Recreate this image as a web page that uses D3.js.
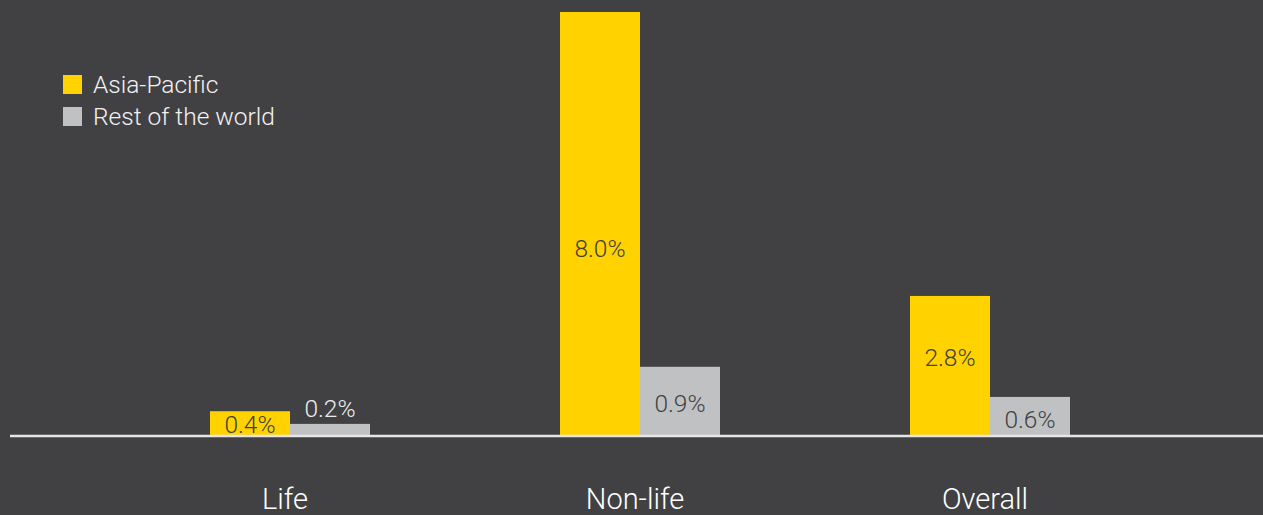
<!DOCTYPE html>
<html><head><meta charset="utf-8">
<script src="https://cdn.jsdelivr.net/npm/d3@7"></script>
<style>
html,body{margin:0;padding:0;background:#414143;}
svg{display:block;}
text{font-family:Roboto, "Open Sans", sans-serif;font-weight:300;}
</style></head>
<body>
<svg id="c" width="1263" height="515"></svg>
<script>
const categories = ["Life", "Non-life", "Overall"];
const seriesNames = ["Asia-Pacific", "Rest of the world"];
// bar heights as drawn in the picture (in % units of the drawn scale)
const asiaPacific = [0.45, 8.0, 2.63];
const restOfWorld = [0.21, 1.29, 0.72];
// printed labels
const asiaLabels = ["0.4%", "8.0%", "2.8%"];
const restLabels = ["0.2%", "0.9%", "0.6%"];
// level (in value units) where each label is centred
const asiaLabelAt = [0.2, 3.53, 1.47];
const restLabelAt = [0.5, 0.6, 0.3];

const W = 1263, H = 515;
const yellow = "#FFD200", grey = "#C0C1C3", bg = "#414143";
const svg = d3.select("#c");
svg.append("rect").attr("width", W).attr("height", H).attr("fill", bg);

const x = d3.scaleBand().domain(categories).range([115, 1165]).padding(0);
const y = d3.scaleLinear().domain([0, 8]).range([435, 12]);
const barW = 80;

const rows = categories.map((c, i) => ({
  c,
  vals: [
    {s: 0, v: asiaPacific[i], label: asiaLabels[i], at: asiaLabelAt[i]},
    {s: 1, v: restOfWorld[i], label: restLabels[i], at: restLabelAt[i]}
  ]
}));

const g = svg.append("g");
const grp = g.selectAll("g.cat").data(rows).join("g").attr("class", "cat");
grp.selectAll("rect").data(d => d.vals.map(v => ({...v, c: d.c})))
  .join("rect")
  .attr("x", d => x(d.c) + x.bandwidth()/2 + (d.s === 0 ? -barW : 0))
  .attr("width", barW)
  .attr("y", d => y(d.v))
  .attr("height", d => y(0) - y(d.v))
  .attr("fill", d => d.s === 0 ? yellow : grey);

grp.selectAll("text.val").data(d => d.vals.map(v => ({...v, c: d.c})))
  .join("text").attr("class", "val")
  .attr("x", d => x(d.c) + x.bandwidth()/2 + (d.s === 0 ? -barW/2 : barW/2))
  .attr("y", d => y(d.at))
  .attr("dy", "0.35em")
  .attr("text-anchor", "middle")
  .attr("font-size", 24.5)
  .attr("fill", d => (d.at > d.v) ? "#EDEDED" : "#414143")
  .text(d => d.label);

// baseline
svg.append("line").attr("x1", 10).attr("x2", W).attr("y1", y(0) + 1).attr("y2", y(0) + 1)
  .attr("stroke", "#E6E6E6").attr("stroke-width", 2.5);

// category axis
const xAxis = d3.axisBottom(x).tickSize(0).tickPadding(0);
const ax = svg.append("g").attr("transform", "translate(-5,0)").call(xAxis);
ax.select(".domain").remove();
ax.selectAll("text").attr("y", 499).attr("dy", "0.35em")
  .attr("fill", "#FFFFFF").attr("font-size", 29)
  .style("font-family", "Roboto, 'Open Sans', sans-serif").style("font-weight", 300);

// legend
const leg = svg.append("g").attr("transform", "translate(63,75)");
const li = leg.selectAll("g").data(seriesNames).join("g")
  .attr("transform", (d, i) => `translate(0,${i * 32})`);
li.append("rect").attr("width", 19).attr("height", 19).attr("fill", (d, i) => i === 0 ? yellow : grey);
li.append("text").attr("x", 30).attr("y", 9).attr("dy", "0.35em")
  .attr("fill", "#F2F2F2").attr("font-size", 24.5).text(d => d);
</script>
</body></html>
